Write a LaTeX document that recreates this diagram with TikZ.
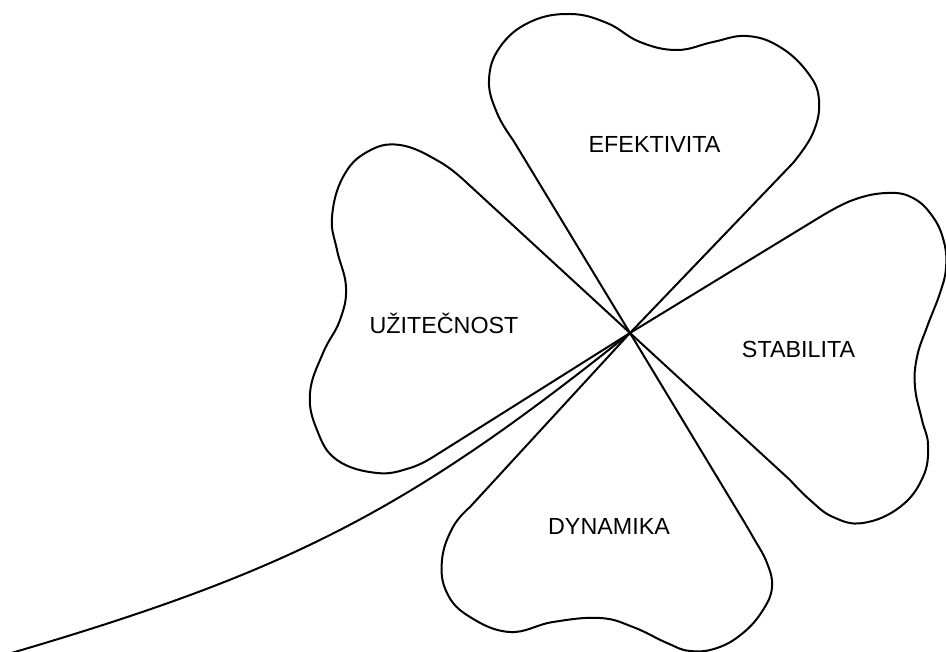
\documentclass[tikz,border=0pt]{standalone}
\usepackage{fontspec}
\setmainfont{Liberation Sans}
\begin{document}
\begin{tikzpicture}[x=1pt,y=-1pt,
  leaf/.style={draw=black,line width=2pt,line join=round},
  stem/.style={draw=black,line width=2pt},
  lbl/.style={anchor=base,inner sep=0pt,font=\fontsize{23.3}{28}\selectfont}]
\useasboundingbox (0,0) rectangle (946,652);
\coordinate (C) at (630,333);
% top leaf
\path[leaf] (C) -- plot[smooth,tension=0.7] coordinates {(513,140) (497,113) (489,80) (500,47) (530,22) (570,14) (607,23) (640,42) (677,50) (713,42) (747,36) (780,47) (808,73) (819,100) (813,133) (793,163)} -- cycle;
% left leaf
\path[leaf] (C) -- plot[smooth,tension=0.7] coordinates {(467,183) (440,162) (400,145) (367,152) (343,177) (332,217) (337,250) (346,287) (340,320) (323,353) (310,393) (317,430) (337,460) (377,473) (410,468) (433,457)} -- cycle;
% right leaf
\path[leaf] (C) -- plot[smooth,tension=0.7] coordinates {(820,217) (853,200) (887,193) (913,198) (933,217) (944,242) (946,268) (940,293) (927,327) (917,357) (915,387) (922,420) (928,445) (923,477) (900,507) (863,523) (833,517) (810,500) (790,480)} -- cycle;
% bottom leaf
\path[leaf] (C) -- plot[smooth,tension=0.7] coordinates {(470,507) (453,527) (442,560) (447,593) (470,617) (510,632) (553,622) (600,618) (633,627) (667,643) (690,651) (717,648) (743,633) (763,610) (772,587) (767,563) (753,537) (740,515)} -- cycle;
% stem
\path[stem] (C) .. controls (410,509) and (292,571) .. (8,654);
\node[lbl] (efek) at (654.5,153) {EFEKTIVITA};
\node[lbl] (uzit) at (444,334) {UŽITEČNOST};
\node[lbl] (stab) at (798.5,358) {STABILITA};
\node[lbl] (dyna) at (609,534) {DYNAMIKA};
\end{tikzpicture}
\end{document}
